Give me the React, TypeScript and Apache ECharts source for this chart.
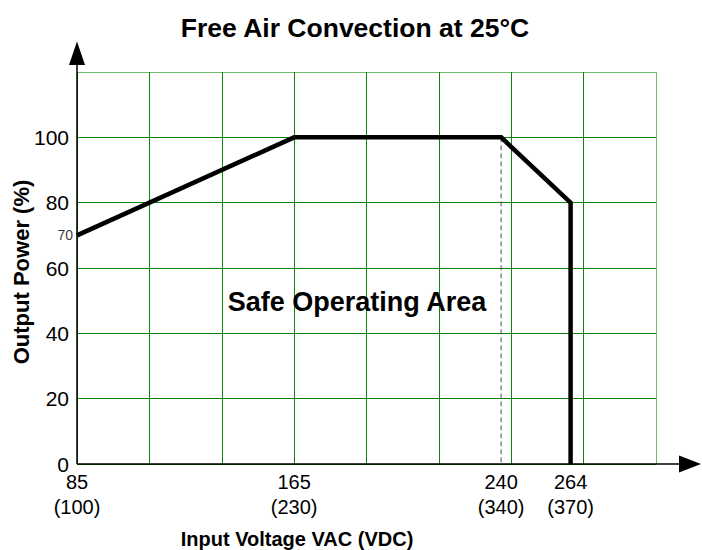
import React, { useEffect, useRef } from "react";
import * as echarts from "echarts";

// ---- data ----
const titleText = "Free Air Convection at 25°C";
const xAxisName = "Input Voltage VAC (VDC)";
const yAxisName = "Output Power (%)";
const areaLabel = "Safe Operating Area";

// x positions are in grid-column units (the original chart is not drawn to scale)
const vacTicks = ["85", "165", "240", "264"];
const vdcTicks = ["(100)", "(230)", "(340)", "(370)"];
const tickPos = [0, 3, 5.86, 6.82];

const curveX = [0, 3, 5.86, 6.82, 6.82];
const curvePower = [70, 100, 100, 80, 0];

const dashX = [5.86, 5.86];
const dashPower = [100, 0];

const yTicks = [0, 20, 40, 60, 80, 100];
const startLabel = "70";

// ---- layout ----
const W = 702;
const H = 550;
const GL = 77;
const GT = 72;
const GR = 656;
const GB = 464;
const FONT = "'Liberation Sans', Arial, Helvetica, sans-serif";

export default function App() {
  const ref = useRef<HTMLDivElement>(null);

  useEffect(() => {
    if (!ref.current) return;
    const chart = echarts.init(ref.current, undefined, { renderer: "svg", width: W, height: H });

    const green = "#0a860a";
    const light = "#6dbd6d";

    const option: any = {
      animation: false,
      backgroundColor: "#ffffff",
      textStyle: { fontFamily: FONT },
      grid: { left: GL, top: GT, right: W - GR, bottom: H - GB, containLabel: false },
      xAxis: {
        type: "value",
        min: 0,
        max: 8,
        interval: 1,
        axisLine: { show: false },
        axisTick: { show: false },
        splitLine: {
          show: true,
          lineStyle: { color: [green, green, green, green, green, green, green, green, light], width: 1 },
        },
        axisLabel: {
          show: true,
          customValues: tickPos,
          color: "#000",
          fontSize: 20,
          lineHeight: 25,
          margin: 5,
          fontFamily: FONT,
          formatter: (v: number) => {
            const i = tickPos.findIndex((p) => Math.abs(p - v) < 1e-6);
            return i >= 0 ? `${vacTicks[i]}\n${vdcTicks[i]}` : "";
          },
        },
      },
      yAxis: {
        type: "value",
        min: 0,
        max: 120,
        interval: 20,
        axisLine: { show: false },
        axisTick: { show: false },
        splitLine: {
          show: true,
          lineStyle: { color: [green, green, green, green, green, green, light], width: 1 },
        },
        axisLabel: {
          show: true,
          customValues: yTicks,
          color: "#000",
          fontSize: 21,
          margin: 8,
          fontFamily: FONT,
        },
      },
      series: [
        {
          type: "line",
          data: dashX.map((x, i) => [x, dashPower[i]]),
          symbol: "none",
          lineStyle: { color: "#555", width: 1, type: [5, 3] },
          z: 3,
        },
        {
          type: "line",
          data: curveX.map((x, i) => [x, curvePower[i]]),
          symbol: "none",
          lineStyle: { color: "#000", width: 4.5, join: "miter", cap: "butt" },
          z: 5,
        },
        {
          type: "scatter",
          data: [[curveX[0], curvePower[0]]],
          symbolSize: 0,
          label: {
            show: true,
            position: "left",
            distance: 4,
            formatter: startLabel,
            color: "#000",
            fontSize: 14,
            fontFamily: FONT,
          },
          z: 6,
        },
      ],
      graphic: [
        {
          type: "line",
          shape: { x1: GL, y1: GB, x2: GL, y2: 64 },
          style: { stroke: "#000", lineWidth: 1.5 },
          z: 10,
        },
        {
          type: "polygon",
          shape: { points: [[GL, 41.5], [GL - 8, 65], [GL + 8, 65]] },
          style: { fill: "#000" },
          z: 10,
        },
        {
          type: "line",
          shape: { x1: GL, y1: GB, x2: 681, y2: GB },
          style: { stroke: "#000", lineWidth: 1.5 },
          z: 10,
        },
        {
          type: "polygon",
          shape: { points: [[701, GB], [679, GB - 8.5], [679, GB + 8.5]] },
          style: { fill: "#000" },
          z: 10,
        },
        {
          type: "text",
          x: 355,
          y: 28,
          style: {
            text: titleText,
            fill: "#000",
            font: `bold 26.5px ${FONT}`,
            textAlign: "center",
            textVerticalAlign: "middle",
          },
          z: 10,
        },
        {
          type: "text",
          x: 357,
          y: 302,
          style: {
            text: areaLabel,
            fill: "#000",
            font: `bold 27px ${FONT}`,
            textAlign: "center",
            textVerticalAlign: "middle",
          },
          z: 10,
        },
        {
          type: "text",
          x: 21,
          y: 272,
          rotation: Math.PI / 2,
          style: {
            text: yAxisName,
            fill: "#000",
            font: `bold 22px ${FONT}`,
            textAlign: "center",
            textVerticalAlign: "middle",
          },
          z: 10,
        },
        {
          type: "text",
          x: 297,
          y: 539,
          style: {
            text: xAxisName,
            fill: "#000",
            font: `bold 20px ${FONT}`,
            textAlign: "center",
            textVerticalAlign: "middle",
          },
          z: 10,
        },
      ],
    };

    chart.setOption(option);
    return () => {
      chart.dispose();
    };
  }, []);

  return (
    <div
      ref={ref}
      style={{ position: "absolute", left: 0, top: 0, width: W, height: H, background: "#fff" }}
    />
  );
}
